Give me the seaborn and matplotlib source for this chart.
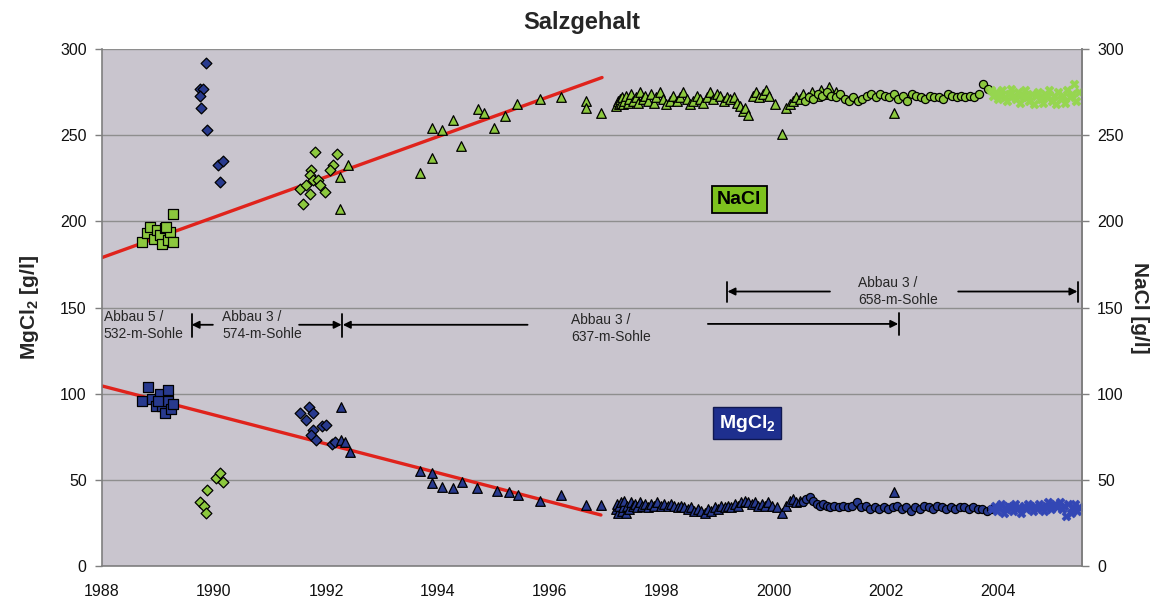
import numpy as np
import pandas as pd
import matplotlib
matplotlib.use("Agg")
import matplotlib.pyplot as plt
import seaborn as sns

# ---------------- data ----------------
# NaCl (green) -------------------------------------------------
nacl_sq_year = [1988.71, 1988.80, 1988.86, 1988.92, 1988.98, 1989.03, 1989.08, 1989.13,
                1989.18, 1989.22, 1989.26, 1989.27, 1989.15]
nacl_sq_val = [188, 193, 197, 190, 195, 192, 187, 196, 189, 194, 204, 188, 197]

nacl_dia_year = [1991.80, 1992.20, 1992.13, 1992.07, 1991.74, 1991.71, 1991.77, 1991.86,
                 1991.54, 1991.65, 1991.71, 1991.89, 1991.98, 1991.59,
                 1989.75, 1989.82, 1989.86, 1989.88, 1990.04, 1990.10, 1990.16]
nacl_dia_val = [240, 239, 233, 230, 230, 227, 224, 224, 219, 221, 216, 221, 217, 210,
                37, 35, 31, 44, 51, 54, 49]

nacl_tri_year = [1992.25, 1992.40, 1992.25, 1993.68, 1993.89, 1993.89, 1994.08, 1994.26,
                 1994.42, 1994.72, 1994.83, 1995.00, 1995.20, 1995.42, 1995.82, 1996.19,
                 1996.64, 1996.64, 1996.91,
                 1997.18, 1997.21, 1997.23, 1997.25, 1997.27, 1997.29, 1997.31, 1997.33,
                 1997.36, 1997.39, 1997.42, 1997.45, 1997.49, 1997.53, 1997.57, 1997.61,
                 1997.66, 1997.70, 1997.75, 1997.80, 1997.85, 1997.90, 1997.96, 1998.02,
                 1998.08, 1998.14, 1998.20, 1998.26, 1998.32, 1998.38, 1998.44, 1998.50,
                 1998.56, 1998.62, 1998.68, 1998.74, 1998.80, 1998.86, 1998.92, 1998.98,
                 1999.04, 1999.10, 1999.16, 1999.22, 1999.28, 1999.34, 1999.39, 1999.44,
                 1999.49, 1999.54, 1999.62, 1999.68, 1999.74, 1999.80, 1999.86, 1999.92,
                 2000.02, 2000.15, 2000.22, 2000.28, 2000.34, 2000.40, 2000.46, 2000.52,
                 2000.60, 2000.68, 2000.76, 2000.84, 2000.92, 2000.98, 2001.10, 2002.15]
nacl_tri_val = [226, 233, 207, 228, 237, 254, 253, 259, 244, 265, 263, 254, 261, 268, 271,
                272, 270, 266, 263,
                267, 270, 268, 271, 269, 272, 268, 270, 273, 269, 271, 274, 270, 272, 269,
                275, 271, 273, 270, 274, 269, 272, 275, 271, 268, 270, 273, 270, 272, 275,
                271, 268, 270, 273, 271, 269, 272, 275, 271, 274, 273, 270, 272, 271, 272,
                269, 267, 264, 266, 262, 273, 275, 272, 274, 276, 273, 268, 250.5, 266, 268,
                270, 272, 271, 274, 272, 275, 273, 276, 274, 278, 275, 263]

nacl_circ_year = [2000.55, 2000.62, 2000.70, 2000.78, 2000.86, 2000.94, 2001.02, 2001.10,
                  2001.18, 2001.26, 2001.34, 2001.42, 2001.50, 2001.58, 2001.66, 2001.74,
                  2001.82, 2001.90, 2001.98, 2002.06, 2002.14, 2002.22, 2002.30, 2002.38,
                  2002.46, 2002.54, 2002.62, 2002.70, 2002.78, 2002.86, 2002.94, 2003.02,
                  2003.10, 2003.18, 2003.26, 2003.34, 2003.42, 2003.50, 2003.58, 2003.66,
                  2003.74, 2003.82]
nacl_circ_val = [270, 272, 271, 274, 273, 275, 273, 272, 274, 271, 270, 272, 270, 271, 273,
                 274, 272, 274, 273, 272, 274, 271, 273, 270, 274, 273, 272, 271, 273, 272,
                 272, 271, 274, 273, 272, 273, 272, 273, 272, 274, 280, 277]

nacl_x_year = [2003.88, 2003.92, 2003.96, 2004.00, 2004.04, 2004.08, 2004.12, 2004.16,
               2004.20, 2004.24, 2004.28, 2004.32, 2004.36, 2004.40, 2004.44, 2004.48,
               2004.52, 2004.56, 2004.60, 2004.64, 2004.68, 2004.72, 2004.76, 2004.80,
               2004.84, 2004.88, 2004.92, 2004.96, 2005.00, 2005.04, 2005.08, 2005.12,
               2005.16, 2005.20, 2005.24, 2005.28, 2005.32, 2005.36, 2005.40, 2005.44]
nacl_x_val = [276, 273, 275, 271, 274, 276, 272, 270, 274, 277, 273, 271, 275, 269, 273,
              276, 272, 270, 274, 268, 273, 275, 271, 269, 274, 272, 276, 270, 273, 268,
              275, 271, 273, 269, 276, 272, 274, 280, 270, 275]

# MgCl2 (blue) -------------------------------------------------
mg_sq_year = [1988.71, 1988.83, 1988.89, 1988.96, 1989.04, 1989.07, 1989.13, 1989.17,
              1989.18, 1989.24, 1989.26, 1989.00]
mg_sq_val = [96, 104, 97, 93, 100, 93, 89, 96, 102, 91, 94, 96]

mg_dia_year = [1991.54, 1991.70, 1991.77, 1991.65, 1991.77, 1991.74, 1991.83, 1991.92,
               1992.00, 1992.10, 1992.16,
               1989.86, 1989.75, 1989.81, 1989.75, 1989.77, 1989.88, 1990.08, 1990.16,
               1990.10]
mg_dia_val = [89, 92, 89, 85, 79, 76, 73, 81, 82, 71, 72,
              292, 277, 277, 273, 266, 253, 233, 235, 223]

mg_tri_year = [1992.26, 1992.26, 1992.34, 1992.42, 1993.68, 1993.89, 1993.89, 1994.08,
               1994.27, 1994.43, 1994.69, 1995.05, 1995.27, 1995.43, 1995.82, 1996.20,
               1996.64, 1996.91,
               1997.18, 1997.20, 1997.22, 1997.24, 1997.26, 1997.28, 1997.30, 1997.32,
               1997.35, 1997.38, 1997.41, 1997.44, 1997.48, 1997.52, 1997.56, 1997.60,
               1997.65, 1997.70, 1997.75, 1997.80, 1997.86, 1997.92, 1997.98, 1998.04,
               1998.10, 1998.16, 1998.22, 1998.28, 1998.34, 1998.40, 1998.46, 1998.52,
               1998.58, 1998.64, 1998.70, 1998.76, 1998.82, 1998.88, 1998.94, 1999.00,
               1999.06, 1999.12, 1999.18, 1999.24, 1999.30, 1999.36, 1999.42, 1999.48,
               1999.54, 1999.60, 1999.66, 1999.72, 1999.78, 1999.84, 1999.90, 1999.96,
               2000.05, 2000.15, 2000.22, 2000.28, 2000.34, 2000.40, 2000.46, 2002.15]
mg_tri_val = [92, 73, 72, 66, 55, 54, 48, 46, 45, 49, 45, 43.5, 43, 41, 38, 41, 35.5, 35.5,
              33, 36, 31, 35, 37, 32, 34, 38, 31, 35, 33, 37, 35, 36, 34, 37, 35, 36, 34,
              36, 35, 37, 35, 36, 35, 36, 35, 34, 35, 34, 33, 34, 32, 33, 32, 31, 33, 32,
              34, 33, 35, 34, 35, 34, 36, 35, 37, 38, 37, 36, 37, 35, 36, 35, 37, 35, 34,
              31, 35, 38, 39, 37, 38, 43]

mg_circ_year = [2000.52, 2000.58, 2000.64, 2000.70, 2000.76, 2000.82, 2000.88, 2000.94,
                2001.00, 2001.08, 2001.16, 2001.24, 2001.32, 2001.40, 2001.48, 2001.56,
                2001.64, 2001.72, 2001.80, 2001.88, 2001.96, 2002.04, 2002.12, 2002.20,
                2002.28, 2002.36, 2002.44, 2002.52, 2002.60, 2002.68, 2002.76, 2002.84,
                2002.92, 2003.00, 2003.08, 2003.16, 2003.24, 2003.32, 2003.40, 2003.48,
                2003.56, 2003.64, 2003.72, 2003.80, 2003.88]
mg_circ_val = [37, 39, 40, 38, 36, 35, 36, 35, 34, 35, 34, 35, 34, 35, 37, 34, 35, 33, 34,
               33, 34, 33, 34, 35, 33, 34, 32, 34, 33, 35, 34, 33, 35, 34, 33, 34, 33, 34,
               34, 33, 34, 33, 33, 32, 33]

mg_x_year = [2003.90, 2003.94, 2003.98, 2004.02, 2004.06, 2004.10, 2004.14, 2004.18,
             2004.22, 2004.26, 2004.30, 2004.34, 2004.38, 2004.42, 2004.46, 2004.50,
             2004.54, 2004.58, 2004.62, 2004.66, 2004.70, 2004.74, 2004.78, 2004.82,
             2004.86, 2004.90, 2004.94, 2004.98, 2005.02, 2005.06, 2005.10, 2005.14,
             2005.18, 2005.22, 2005.26, 2005.30, 2005.34, 2005.38, 2005.42, 2005.45]
mg_x_val = [33, 35, 32, 34, 36, 31, 33, 35, 34, 32, 36, 33, 34, 31, 35, 33, 36, 34, 32, 35,
            33, 36, 34, 32, 35, 37, 33, 35, 36, 34, 37, 33, 35, 29, 36, 31, 34, 36, 32, 34]

# trend lines
nacl_trend_year = [1988.0, 1996.93]
nacl_trend_val = [179, 283.5]
mg_trend_year = [1988.0, 1996.91]
mg_trend_val = [104.5, 29.6]

# mining phases (annotations)
lower_texts = ["Abbau 5 /\n532-m-Sohle", "Abbau 3 /\n574-m-Sohle", "Abbau 3 /\n637-m-Sohle"]
upper_text = "Abbau 3 /\n658-m-Sohle"

x_ticks = [1988, 1990, 1992, 1994, 1996, 1998, 2000, 2002, 2004]
y_ticks = [0, 50, 100, 150, 200, 250, 300]

# ---------------- style ----------------
sns.set_style("white")
plt.rcParams["font.family"] = ["Liberation Sans", "DejaVu Sans"]
plt.rcParams["mathtext.fontset"] = "custom"
plt.rcParams["mathtext.rm"] = "Liberation Sans"
plt.rcParams["mathtext.bf"] = "Liberation Sans:bold"

GREEN = "#8cc83e"
LGREEN = "#96d650"
BLUE = "#283a8e"
LBLUE = "#3347b5"
RED = "#e0231c"
BG = "#c9c5ce"
GRID = "#8e8e8e"

fig = plt.figure(figsize=(11.63, 6.06), dpi=100)
ax = fig.add_axes([0.0877, 0.066, 0.8426, 0.853])
ax.set_facecolor(BG)

def sc(xs, ys, marker, s, color, ec="black", lw=0.9, z=3):
    sns.scatterplot(x=xs, y=ys, marker=marker, s=s, color=color, edgecolor=ec,
                    linewidth=lw, ax=ax, zorder=z, legend=False)

# trend lines
sns.lineplot(x=nacl_trend_year, y=nacl_trend_val, color=RED, lw=2.4, ax=ax, zorder=2)
sns.lineplot(x=mg_trend_year, y=mg_trend_val, color=RED, lw=2.4, ax=ax, zorder=2)

# NaCl
sc(nacl_sq_year, nacl_sq_val, "s", 50, GREEN)
sc(nacl_dia_year, nacl_dia_val, "D", 30, GREEN)
sc(nacl_tri_year, nacl_tri_val, "^", 48, GREEN)
sc(nacl_circ_year, nacl_circ_val, "o", 34, GREEN)
sc(nacl_x_year, nacl_x_val, "X", 40, LGREEN, ec=LGREEN, lw=0.5)
# MgCl2
sc(mg_sq_year, mg_sq_val, "s", 50, BLUE)
sc(mg_dia_year, mg_dia_val, "D", 30, BLUE)
sc(mg_tri_year, mg_tri_val, "^", 48, BLUE)
sc(mg_circ_year, mg_circ_val, "o", 34, BLUE)
sc(mg_x_year, mg_x_val, "X", 40, LBLUE, ec=LBLUE, lw=0.5)

ax.set_xlim(1988, 2005.5)
ax.set_ylim(0, 300)
ax.set_xticks(x_ticks)
ax.set_yticks(y_ticks)
ax.yaxis.grid(True, color=GRID, lw=1.0)
ax.xaxis.grid(False)
ax.set_axisbelow(True)
for side in ["left", "bottom", "right"]:
    ax.spines[side].set_color("#7f7f7f")
    ax.spines[side].set_linewidth(1.2)
ax.spines["top"].set_visible(False)
ax.tick_params(axis="both", which="both", direction="out", length=5, width=1,
               color="#7f7f7f", labelsize=11.5, pad=6, labelcolor="#111111")
ax.tick_params(axis="x", pad=8)
ax.set_xlabel("")
ax.set_ylabel("MgCl$_\\mathbf{2}$ [g/l]", fontsize=15, fontweight="bold", labelpad=14)

ax2 = ax.twinx()
ax2.set_ylim(0, 300)
ax2.set_yticks(y_ticks)
ax2.tick_params(axis="y", direction="out", length=5, width=1, color="#7f7f7f",
                labelsize=11.5, pad=6, labelcolor="#111111")
for side in ["left", "bottom", "top"]:
    ax2.spines[side].set_visible(False)
ax2.spines["right"].set_color("#7f7f7f")
ax2.spines["right"].set_linewidth(1.2)
ax2.set_ylabel("NaCl [g/l]", fontsize=15, fontweight="bold", rotation=270, labelpad=18)

fig.text(0.5, 0.963, "Salzgehalt", ha="center", va="center", fontsize=17,
         fontweight="bold")

# ---------------- annotations ----------------
aprops = dict(arrowstyle="-|>", color="black", lw=1.3, mutation_scale=11,
              shrinkA=0, shrinkB=0)

def tick(x, y0, y1):
    ax.plot([x, x], [y0, y1], color="black", lw=1.3, zorder=4)

def arrow(x_from, x_to, y):
    ax.annotate("", xy=(x_to, y), xytext=(x_from, y), arrowprops=aprops, zorder=4)

tf = dict(fontsize=10, va="center", ha="left", linespacing=1.25)
# lower row
ax.text(1988.03, 139.5, lower_texts[0], **tf)
tick(1989.6, 133, 146)
arrow(1989.98, 1989.6, 140)
ax.text(1990.15, 139.5, lower_texts[1], **tf)
arrow(1991.52, 1992.28, 140)
tick(1992.28, 133, 146)
arrow(1995.6, 1992.3, 140)
ax.text(1996.38, 138, lower_texts[2], **tf)
arrow(1998.82, 2002.22, 140.5)
tick(2002.24, 134, 147)
# upper row
tick(1999.17, 153.5, 165)
arrow(2001.0, 1999.17, 159.3)
ax.text(2001.5, 159.3, upper_text, **tf)
arrow(2003.29, 2005.42, 159.3)
tick(2005.43, 153.5, 165)

# label boxes
ax.text(1999.38, 212.7, "NaCl", fontsize=14, fontweight="bold", color="black",
        ha="center", va="center", zorder=5,
        bbox=dict(boxstyle="square,pad=0.28", fc="#7dc21e", ec="black", lw=1.3))
ax.text(1999.52, 82.8, "MgCl$_\\mathbf{2}$", fontsize=14, fontweight="bold",
        color="white", ha="center", va="center", zorder=5,
        bbox=dict(boxstyle="square,pad=0.28", fc="#1e2f8e", ec="#101850", lw=1.0))

fig.savefig("out.png", dpi=100)
